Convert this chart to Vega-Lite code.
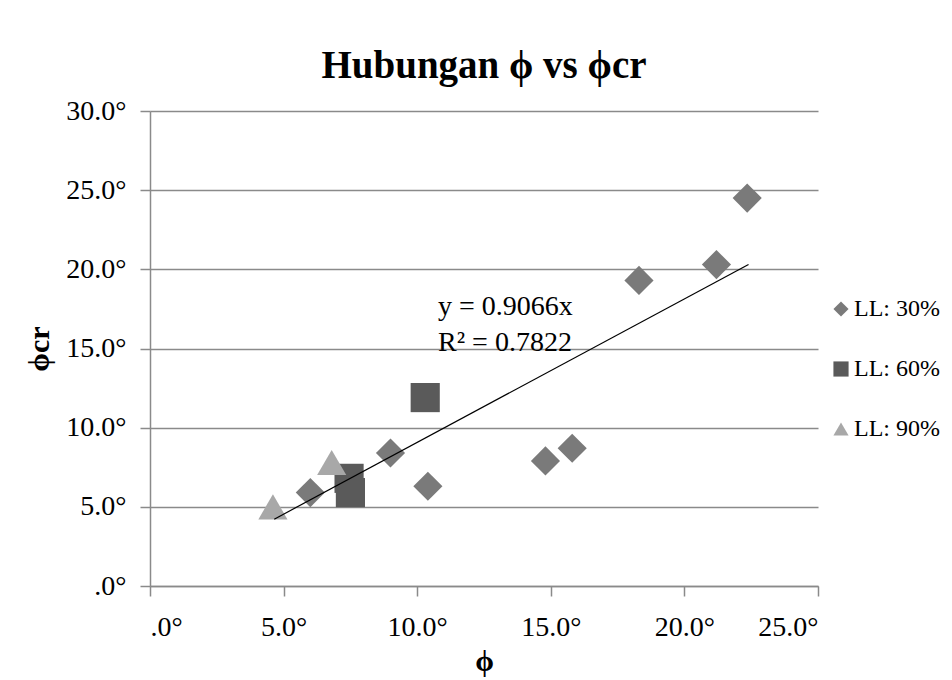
{
  "$schema": "https://vega.github.io/schema/vega-lite/v6.json",
  "width": 668,
  "height": 475,
  "autosize": {"type": "none"},
  "padding": {"left": 150, "top": 111, "right": 134, "bottom": 94},
  "background": "white",
  "title": {
    "text": "Hubungan ϕ vs ϕcr",
    "font": "Liberation Serif",
    "fontSize": 39,
    "fontWeight": "bold",
    "color": "black",
    "anchor": "middle",
    "offset": 11
  },
  "config": {
    "view": {"stroke": null},
    "axis": {
      "labelFont": "Liberation Serif",
      "labelFontSize": 28,
      "labelColor": "black",
      "titleFont": "Liberation Serif",
      "titleFontSize": 30,
      "titleFontWeight": "bold",
      "titleColor": "black",
      "domainColor": "#8a8a8a",
      "domainWidth": 1.5,
      "tickColor": "#8a8a8a",
      "tickWidth": 1.5,
      "tickSize": 10,
      "gridColor": "#8a8a8a",
      "gridWidth": 1.5
    }
  },
  "layer": [
    {
      "data": {
        "values": [
          {"phi": 6.0, "phicr": 5.9, "series": "LL: 30%"},
          {"phi": 9.0, "phicr": 8.4, "series": "LL: 30%"},
          {"phi": 10.4, "phicr": 6.3, "series": "LL: 30%"},
          {"phi": 14.8, "phicr": 7.9, "series": "LL: 30%"},
          {"phi": 15.8, "phicr": 8.7, "series": "LL: 30%"},
          {"phi": 18.3, "phicr": 19.3, "series": "LL: 30%"},
          {"phi": 21.2, "phicr": 20.3, "series": "LL: 30%"},
          {"phi": 22.35, "phicr": 24.5, "series": "LL: 30%"},
          {"phi": 10.3, "phicr": 11.9, "series": "LL: 60%"},
          {"phi": 7.45, "phicr": 6.8, "series": "LL: 60%"},
          {"phi": 7.5, "phicr": 5.9, "series": "LL: 60%"},
          {"phi": 4.6, "phicr": 5.0, "series": "LL: 90%"},
          {"phi": 6.8, "phicr": 7.8, "series": "LL: 90%"}
        ]
      },
      "mark": {"type": "point", "filled": true, "opacity": 1, "size": 850},
      "encoding": {
        "x": {
          "field": "phi",
          "type": "quantitative",
          "scale": {"domain": [0, 25], "nice": false},
          "axis": {
            "values": [0, 5, 10, 15, 20, 25],
            "grid": false,
            "title": "ϕ",
            "labelPadding": 17,
            "titlePadding": 5,
            "labelExpr": "datum.value == 0 ? '.0°' : format(datum.value, '.1f') + '°'"
          }
        },
        "y": {
          "field": "phicr",
          "type": "quantitative",
          "scale": {"domain": [0, 30], "nice": false},
          "axis": {
            "values": [0, 5, 10, 15, 20, 25, 30],
            "grid": true,
            "title": "ϕcr",
            "labelPadding": 14,
            "titlePadding": 11,
            "labelExpr": "datum.value == 0 ? '.0°' : format(datum.value, '.1f') + '°'"
          }
        },
        "color": {
          "field": "series",
          "type": "nominal",
          "scale": {"domain": ["LL: 30%", "LL: 60%", "LL: 90%"], "range": ["#7a7a7a", "#5a5a5a", "#a8a8a8"]},
          "legend": {
            "title": null,
            "orient": "none",
            "legendX": 679,
            "legendY": 186,
            "labelFont": "Liberation Serif",
            "labelFontSize": 24,
            "labelColor": "black",
            "symbolSize": 230,
            "symbolStrokeWidth": 0,
            "rowPadding": 36,
            "labelOffset": 1
          }
        },
        "shape": {
          "field": "series",
          "type": "nominal",
          "scale": {"domain": ["LL: 30%", "LL: 60%", "LL: 90%"], "range": ["diamond", "square", "triangle-up"]},
          "legend": null
        }
      }
    },
    {
      "data": {"values": [{"phi": 4.65, "phicr": 4.22}, {"phi": 22.4, "phicr": 20.31}]},
      "mark": {"type": "line", "color": "black", "strokeWidth": 1.2},
      "encoding": {
        "x": {"field": "phi", "type": "quantitative"},
        "y": {"field": "phicr", "type": "quantitative"}
      }
    },
    {
      "data": {"values": [{"phi": 10.78, "phicr": 17.6, "label": "y = 0.9066x"}, {"phi": 10.78, "phicr": 15.35, "label": "R² = 0.7822"}]},
      "mark": {"type": "text", "align": "left", "baseline": "middle", "font": "Liberation Serif", "fontSize": 28, "color": "black"},
      "encoding": {
        "x": {"field": "phi", "type": "quantitative"},
        "y": {"field": "phicr", "type": "quantitative"},
        "text": {"field": "label"}
      }
    }
  ]
}
